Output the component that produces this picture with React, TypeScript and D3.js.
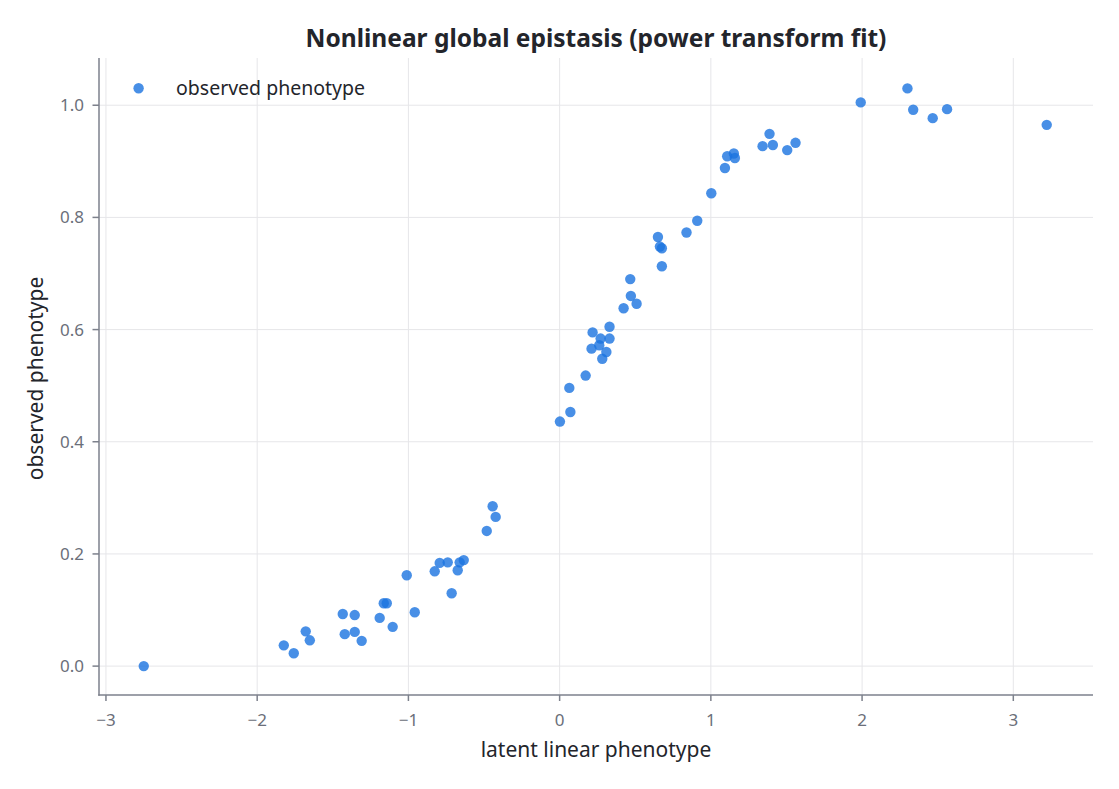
import React from "react";
import * as d3 from "d3";

const latent: number[] = [
  -2.75, -1.824, -1.758, -1.679, -1.652, -1.434, -1.421, -1.355, -1.355, -1.309,
  -1.19, -1.163, -1.143, -1.104, -1.011, -0.958, -0.826, -0.793, -0.74, -0.714,
  -0.674, -0.661, -0.634, -0.482, -0.443, -0.423,
  0.002, 0.071, 0.064, 0.172, 0.211, 0.218, 0.262, 0.271, 0.282, 0.309,
  0.33, 0.33, 0.423, 0.471, 0.509, 0.467,
  0.676, 0.65, 0.663, 0.676, 0.839, 0.91, 1.003, 1.093, 1.108, 1.152,
  1.159, 1.342, 1.388, 1.41, 1.505, 1.56,
  1.991, 2.3, 2.338, 2.467, 2.562, 3.221,
];
const observed: number[] = [
  0.0, 0.037, 0.023, 0.062, 0.046, 0.093, 0.057, 0.091, 0.061, 0.045,
  0.086, 0.112, 0.112, 0.07, 0.162, 0.096, 0.169, 0.184, 0.185, 0.13,
  0.171, 0.185, 0.189, 0.241, 0.285, 0.266,
  0.436, 0.453, 0.496, 0.518, 0.566, 0.595, 0.572, 0.584, 0.548, 0.56,
  0.605, 0.584, 0.638, 0.66, 0.646, 0.69,
  0.713, 0.765, 0.748, 0.745, 0.773, 0.794, 0.843, 0.888, 0.909, 0.914,
  0.906, 0.927, 0.949, 0.929, 0.92, 0.933,
  1.005, 1.03, 0.992, 0.977, 0.993, 0.965,
];
const xTicks: number[] = [-3, -2, -1, 0, 1, 2, 3];
const yTicks: number[] = [0.0, 0.2, 0.4, 0.6, 0.8, 1.0];

const title = "Nonlinear global epistasis (power transform fit)";
const xLabel = "latent linear phenotype";
const yLabel = "observed phenotype";
const legendLabel = "observed phenotype";

const W = 1119;
const H = 789;
const L = 99, R = 1093, T = 58, B = 695;
const FONT = "'Noto Sans', 'Open Sans', sans-serif";
const DOT = "#1a73e0";

export default function App() {
  const x = d3.scaleLinear().domain([-3.046, 3.527]).range([L, R]);
  const y = d3.scaleLinear().domain([-0.0515, 1.0842]).range([B, T]);
  const fmtX = (v: number) => (v < 0 ? "\u2212" + Math.abs(v) : String(v));
  const pts = latent.map((v, i) => ({ x: v, y: observed[i] }));
  return (
    <svg width={W} height={H} style={{ position: "absolute", left: 0, top: 0, background: "#fff" }} fontFamily={FONT}>
      {xTicks.map((t) => (
        <line key={"gx" + t} x1={x(t)} x2={x(t)} y1={T} y2={B} stroke="#e6e6e9" strokeWidth={1} />
      ))}
      {yTicks.map((t) => (
        <line key={"gy" + t} x1={L} x2={R} y1={y(t)} y2={y(t)} stroke="#e6e6e9" strokeWidth={1} />
      ))}
      {pts.map((p, i) => (
        <circle key={i} cx={x(p.x)} cy={y(p.y)} r={5.2} fill={DOT} fillOpacity={0.8} />
      ))}
      <line x1={L} x2={L} y1={T} y2={B + 0.75} stroke="#7d818c" strokeWidth={1.5} />
      <line x1={L - 0.75} x2={R} y1={B} y2={B} stroke="#7d818c" strokeWidth={1.5} />
      {xTicks.map((t) => (
        <g key={"tx" + t}>
          <line x1={x(t)} x2={x(t)} y1={B} y2={B + 6} stroke="#7d818c" strokeWidth={1.5} />
          <text x={x(t)} y={B + 31} textAnchor="middle" fontSize={17} fill="#6b6f7a">{fmtX(t)}</text>
        </g>
      ))}
      {yTicks.map((t) => (
        <g key={"ty" + t}>
          <line x1={L - 6.5} x2={L} y1={y(t)} y2={y(t)} stroke="#7d818c" strokeWidth={1.5} />
          <text x={L - 15} y={y(t) + 6} textAnchor="end" fontSize={17} fill="#6b6f7a">{t.toFixed(1)}</text>
        </g>
      ))}
      <text x={(L + R) / 2} y={47} textAnchor="middle" fontSize={24.5} fontWeight="bold" fill="#23252b">{title}</text>
      <text x={(L + R) / 2} y={757} textAnchor="middle" fontSize={21} fill="#23252b">{xLabel}</text>
      <text transform={`translate(43, ${(T + B) / 2 + 2}) rotate(-90)`} textAnchor="middle" fontSize={21} fill="#23252b">{yLabel}</text>
      <circle cx={138.6} cy={88.3} r={5.2} fill={DOT} fillOpacity={0.8} />
      <text x={176} y={94.5} fontSize={19.5} fill="#23252b">{legendLabel}</text>
    </svg>
  );
}
